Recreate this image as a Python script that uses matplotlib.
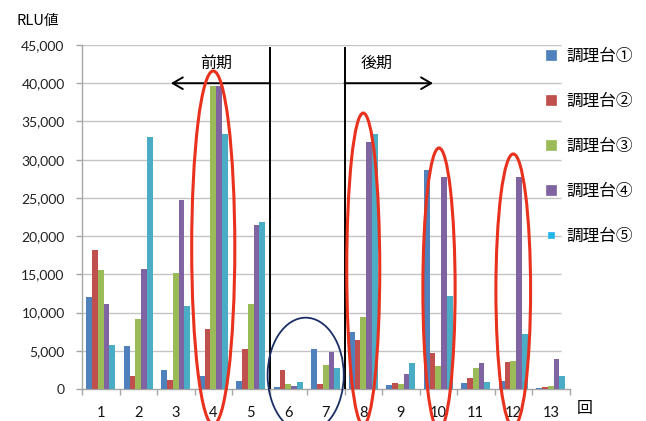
import matplotlib
matplotlib.use("Agg")
import matplotlib.pyplot as plt
import numpy as np
from matplotlib.patches import Ellipse
from matplotlib.lines import Line2D

# ---- data -------------------------------------------------------------
rounds = ["1", "2", "3", "4", "5", "6", "7", "8", "9", "10", "11", "12", "13"]
series_names = ["調理台①", "調理台②", "調理台③", "調理台④", "調理台⑤"]

table1 = [12100, 5600, 2500, 1700, 1000, 300, 5200, 7400, 500, 28700, 800, 1000, 100]
table2 = [18200, 1700, 1200, 7800, 5200, 2500, 700, 6400, 800, 4700, 1400, 3500, 250]
table3 = [15600, 9200, 15200, 39600, 11100, 700, 3100, 9400, 700, 3000, 2800, 3600, 450]
table4 = [11100, 15700, 24700, 39600, 21400, 450, 4900, 32300, 2000, 27700, 3400, 27700, 3900]
table5 = [5700, 32900, 10900, 33400, 21900, 900, 2800, 33400, 3400, 12200, 950, 7200, 1700]

yticks = [0, 5000, 10000, 15000, 20000, 25000, 30000, 35000, 40000, 45000]

colors = ["#4F81BD", "#C0504D", "#9BBB59", "#8064A2", "#4BACC6"]

# ---- figure -----------------------------------------------------------
JP = ["Noto Sans CJK JP", "DejaVu Sans"]
NUM = ["Lato", "DejaVu Sans"]

fig = plt.figure(figsize=(6.46, 4.21), dpi=100)
ax = fig.add_axes([82 / 646, 32 / 421, (569.5 - 82) / 646, (389 - 45) / 421])

x = np.arange(1, len(rounds) + 1)
bw = 0.153
values = [table1, table2, table3, table4, table5]
for k, (vals, col) in enumerate(zip(values, colors)):
    ax.bar(x + (k - 2) * bw, vals, width=bw, color=col, zorder=3, linewidth=0)

ax.set_xlim(0.5, 13.5)
ax.set_ylim(0, 45000)

# horizontal gridlines stop short of the right edge
ax.hlines(yticks[1:], 0.5, 13.27, color="#C4C4C4", lw=1.0, zorder=1)

for s in ["top", "right"]:
    ax.spines[s].set_visible(False)
for s in ["left", "bottom"]:
    ax.spines[s].set_color("#A6A6A6")
    ax.spines[s].set_linewidth(1.0)

ax.set_yticks(yticks)
ax.set_yticklabels([f"{v:,}" for v in yticks], fontsize=10, family=NUM, color="#222222")
ax.tick_params(axis="y", length=4.5, width=1, color="#A6A6A6", pad=8)

ax.set_xticks(x)
ax.set_xticklabels(rounds, fontsize=10.5, family=NUM, color="#111111")
ax.set_xticks(np.arange(0.5, 14.0, 1.0), minor=True)
ax.tick_params(axis="x", which="major", length=0, pad=12)
ax.tick_params(axis="x", which="minor", length=4, width=1, color="#A6A6A6")

fig.text(17 / 646, 1 - 21 / 421, "RLU値", family=JP, fontsize=10.5, va="center", ha="left")
fig.text(585 / 646, 1 - 409 / 421, "回", family=JP, fontsize=11.5, va="center", ha="center")

# period separators and arrows
ax.vlines([5.5, 7.5], 0, 44800, color="black", lw=1.4, zorder=5)
arrow = dict(arrowstyle="->, head_length=0.6, head_width=0.35", lw=1.4, color="black",
             shrinkA=0, shrinkB=0, mutation_scale=12)
ax.annotate("", xy=(2.87, 40000), xytext=(5.5, 40000), arrowprops=arrow, zorder=6)
ax.annotate("", xy=(9.86, 40000), xytext=(7.5, 40000), arrowprops=arrow, zorder=6)
ax.text(4.07, 42600, "前期", family=JP, fontsize=11.5, ha="center", va="center")
ax.text(8.37, 42600, "後期", family=JP, fontsize=11.5, ha="center", va="center")

# highlight rings
for cx, cy, w, h in [(4.0, 18470, 1.15, 46260), (8.0, 15700, 0.88, 40800),
                     (10.02, 13080, 0.86, 36900), (12.0, 12900, 0.925, 35700)]:
    ax.add_patch(Ellipse((cx, cy), w, h, fill=False, edgecolor="#E8321E", lw=2.2,
                         clip_on=False, zorder=7))
ax.add_patch(Ellipse((6.465, 1830), 2.03, 15000, fill=False, edgecolor="#1B2F66", lw=1.3,
                     clip_on=False, zorder=7))

# legend
legend_colors = colors[:4] + ["#22B5E8"]
legend_sizes = [6.5, 6.5, 6.5, 6.5, 4.8]
handles = [Line2D([], [], marker="s", linestyle="", color=c, markersize=s,
                  markeredgecolor=c, markeredgewidth=0.5)
           for c, s in zip(legend_colors, legend_sizes)]
fig.legend(handles, series_names, loc="upper left",
           bbox_to_anchor=(545 / 646, 1 - 48 / 421), frameon=False,
           prop={"family": JP, "size": 12}, handlelength=0.7, handletextpad=0.6,
           labelspacing=1.68, borderpad=0, borderaxespad=0)

fig.savefig("out.png", dpi=100)
